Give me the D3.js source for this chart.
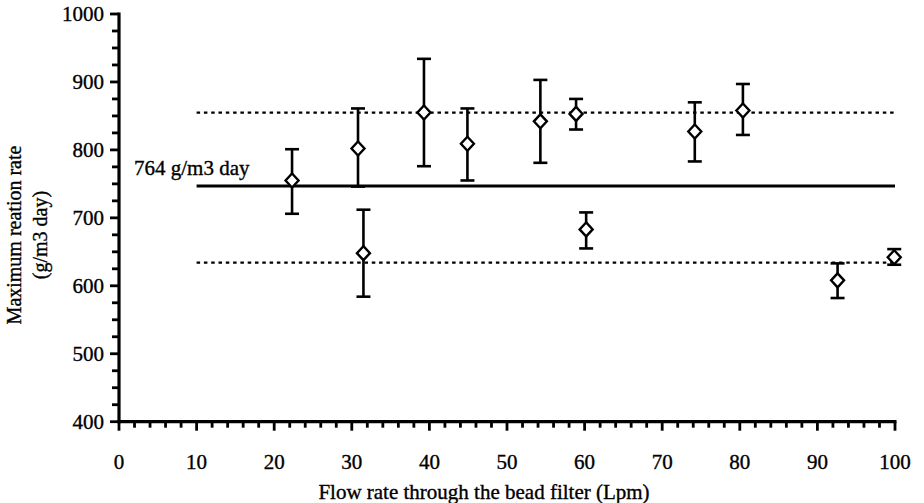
<!DOCTYPE html>
<meta charset="utf-8">
<style>
body { margin: 0; background: #fff; }
text { font-family: "Liberation Serif", "DejaVu Serif", serif; fill: #000; stroke: #000; stroke-width: 0.35px; }
</style>
<body>
<svg id="chart" width="924" height="503"></svg>
<script src="https://cdn.jsdelivr.net/npm/d3@7"></script>
<script>
// data
var flow   = [22.3, 30.8, 31.5, 39.3, 44.9, 54.3, 58.9, 60.2, 74.2, 80.4, 92.6, 99.9];
var rate   = [755, 802, 648, 855, 809, 842, 853, 683, 827, 858, 608, 642];
var errTop = [801, 861, 712, 934, 861, 903, 875, 708, 870, 897, 633, 654];
var errBot = [706, 746, 584, 776, 755, 781, 830, 655, 783, 822, 582, 631];

var meanRate = 747;      // solid line
var bandRates = [855, 634]; // dotted lines
var lineFrom = 10, lineTo = 100;
var meanLabel = "764 g/m3 day";

var xTicks = [0, 10, 20, 30, 40, 50, 60, 70, 80, 90, 100];
var yTicks = [400, 500, 600, 700, 800, 900, 1000];

var svg = d3.select("#chart");

var x = d3.scaleLinear().domain([0, 100]).range([119, 895]);
var y = d3.scaleLinear().domain([400, 1000]).range([421.7, 14]);

// minor ticks
var g = svg.append("g");
g.selectAll(".xminor")
  .data(d3.range(0, 101, 2))
  .enter().append("line")
    .attr("x1", function(d) { return x(d); })
    .attr("x2", function(d) { return x(d); })
    .attr("y1", y(400))
    .attr("y2", function(d) { return d % 10 == 0 ? y(400) + 9 : y(400) + 6; })
    .attr("stroke", "#000")
    .attr("stroke-width", 2.8);

g.selectAll(".yminor")
  .data(d3.range(400, 1001, 25))
  .enter().append("line")
    .attr("x1", x(0))
    .attr("x2", function(d) { return d % 100 == 0 ? x(0) - 9 : x(0) - 7; })
    .attr("y1", function(d) { return y(d); })
    .attr("y2", function(d) { return y(d); })
    .attr("stroke", "#000")
    .attr("stroke-width", 2.8);

// axis lines
g.append("line")
  .attr("x1", x(0) - 1.5).attr("x2", x(100) + 1.5)
  .attr("y1", y(400)).attr("y2", y(400))
  .attr("stroke", "#000").attr("stroke-width", 3.2);
g.append("line")
  .attr("x1", x(0)).attr("x2", x(0))
  .attr("y1", y(400) + 1.5).attr("y2", y(1000) - 1.5)
  .attr("stroke", "#000").attr("stroke-width", 3.2);

// tick labels
g.selectAll(".xlab")
  .data(xTicks)
  .enter().append("text")
    .attr("x", function(d) { return x(d); })
    .attr("y", 469)
    .attr("text-anchor", "middle")
    .style("font-size", "21px")
    .text(function(d) { return d; });

g.selectAll(".ylab")
  .data(yTicks)
  .enter().append("text")
    .attr("x", 104)
    .attr("y", function(d) { return y(d); })
    .attr("dy", "0.35em")
    .attr("text-anchor", "end")
    .style("font-size", "21px")
    .text(function(d) { return d; });

// axis titles
svg.append("text")
  .attr("x", 484)
  .attr("y", 499)
  .attr("text-anchor", "middle")
  .style("font-size", "21px")
  .text("Flow rate through the bead filter (Lpm)");

var yt = svg.append("text")
  .attr("transform", "translate(0,235) rotate(-90)")
  .attr("text-anchor", "middle")
  .style("font-size", "20px");
yt.append("tspan").attr("x", 0).attr("y", 21).text("Maximum reation rate");
yt.append("tspan").attr("x", 0).attr("y", 47).text("(g/m3 day)");

// reference lines
svg.append("line")
  .attr("x1", x(lineFrom)).attr("x2", x(lineTo))
  .attr("y1", y(meanRate)).attr("y2", y(meanRate))
  .attr("stroke", "#000").attr("stroke-width", 3);

svg.selectAll(".band")
  .data(bandRates)
  .enter().append("line")
    .attr("x1", x(lineFrom)).attr("x2", x(lineTo))
    .attr("y1", function(d) { return y(d); })
    .attr("y2", function(d) { return y(d); })
    .attr("stroke", "#000")
    .attr("stroke-width", 2.2)
    .attr("stroke-dasharray", "3.5,3.8");

svg.append("text")
  .attr("x", 134)
  .attr("y", 175)
  .style("font-size", "21px")
  .text(meanLabel);

// error bars
var pts = flow.map(function(f, i) {
  return {f: f, v: rate[i], hi: errTop[i], lo: errBot[i]};
});

var eb = svg.append("g").attr("stroke", "#000").attr("stroke-width", 2.6);
eb.selectAll(".stem")
  .data(pts)
  .enter().append("line")
    .attr("x1", function(d) { return x(d.f); })
    .attr("x2", function(d) { return x(d.f); })
    .attr("y1", function(d) { return y(d.hi); })
    .attr("y2", function(d) { return y(d.lo); });

eb.selectAll(".cap")
  .data(pts.flatMap(function(d) { return [{f: d.f, v: d.hi}, {f: d.f, v: d.lo}]; }))
  .enter().append("line")
    .attr("x1", function(d) { return x(d.f) - 7; })
    .attr("x2", function(d) { return x(d.f) + 7; })
    .attr("y1", function(d) { return y(d.v); })
    .attr("y2", function(d) { return y(d.v); });

// diamonds
svg.selectAll(".pt")
  .data(pts)
  .enter().append("path")
    .attr("transform", function(d) { return "translate(" + x(d.f) + "," + y(d.v) + ")"; })
    .attr("d", "M0,-7L6.5,0L0,7L-6.5,0Z")
    .attr("fill", "#fff")
    .attr("stroke", "#000")
    .attr("stroke-width", 2.4);
</script>
</body>
